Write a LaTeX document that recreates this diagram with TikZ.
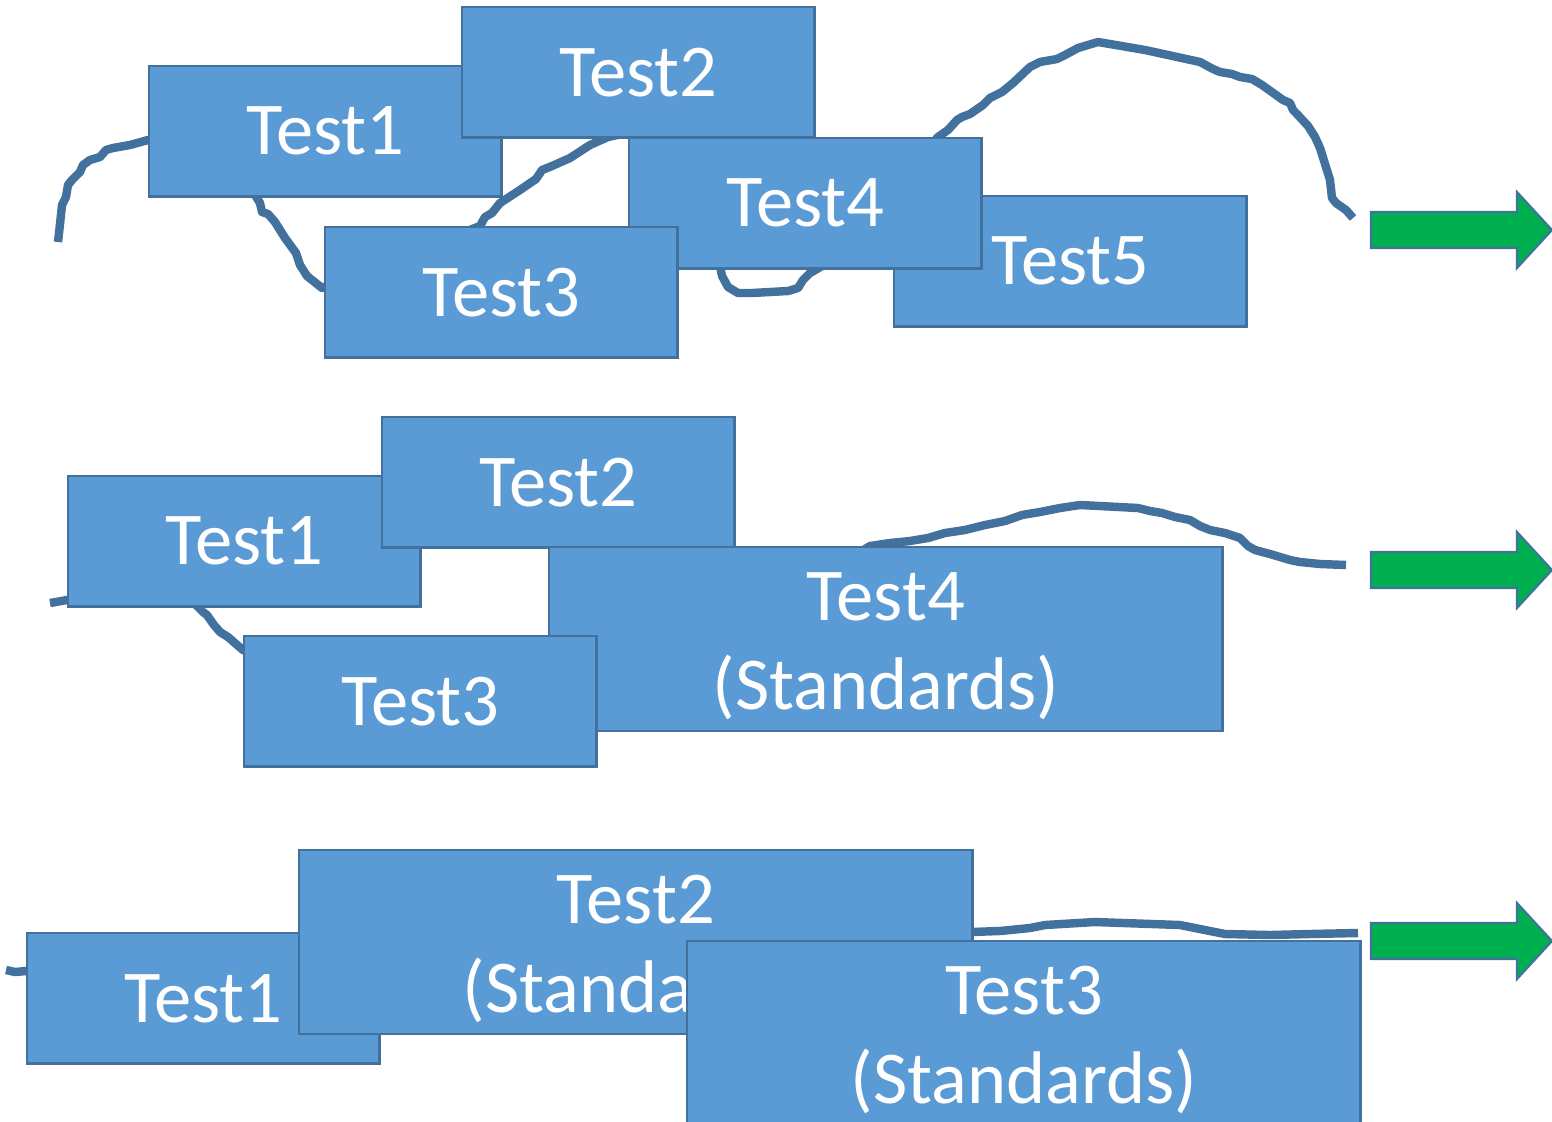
\documentclass[tikz,border=0pt]{standalone}
\usepackage{fontspec}
\setmainfont{Carlito}
\definecolor{boxblue}{HTML}{5B9BD5}
\definecolor{edgeblue}{HTML}{41719C}
\definecolor{gogreen}{HTML}{00B050}
\tikzset{
  box/.style={draw=edgeblue, line width=.7pt, fill=boxblue, text=white,
    anchor=north west, minimum width=3.52cm, minimum height=1.3cm,
    font=\fontsize{21.2}{25.2}\selectfont, align=center},
  widebox/.style={box, minimum width=6.73cm, minimum height=1.82cm, text height=1.5cm},
  scribble/.style={draw=edgeblue, line width=2.4pt, line join=round},
}
\begin{document}
\begin{tikzpicture}[x=0.01cm, y=-0.01cm]
\useasboundingbox (0,0) rectangle (1552,1121);
% first plan: five tests
\draw[scribble] (58,242)--(61,215)--(62,205)--(66,197)--(68,185)--(72,180)--(80,172)--(83,165)--(90,160)--(100,157)--(106,150)--(113,148)--(130,145)--(148,140)
  --(250,180)--(255,195)--(260,203)--(262,212)--(268,214)--(275,222)--(285,238)--(296,253)--(300,265)--(307,276)--(322,288)
  --(480,226)--(485,217)--(492,213)--(500,203)--(520,190)--(536,179)--(542,170)--(552,166)--(570,158)--(590,145)--(608,137)
  --(650,128)--(700,200)--(720,266)--(722,276)--(728,287)--(738,293)--(752,293)--(788,291)--(798,288)--(803,280)--(810,273)--(822,266)
  --(938,137)--(948,130)--(957,120)--(962,117)--(970,114)--(983,105)--(990,98)--(1002,92)--(1013,83)--(1030,67)--(1040,62)--(1057,59)--(1065,55)--(1078,48)--(1098,42)
  --(1145,50)--(1200,62)--(1213,69)--(1220,72)--(1232,74)--(1240,77)--(1252,79)--(1262,85)--(1283,100)--(1290,103)--(1293,110)--(1296,113)--(1308,126)--(1315,137)--(1320,148)--(1330,180)--(1332,198)--(1336,203)--(1346,210)--(1353,218);
\node[box] (a1) at (148,65) {Test1};
\node[box] (a2) at (461,6) {Test2};
\node[box] (a5) at (893,195) {Test5};
\node[box] (a4) at (628,137) {Test4};
\node[box] (a3) at (324,226) {Test3};
% second plan: standards in test 4
\draw[scribble] (50,603)--(67,600)--(130,585)--(190,592)--(196,605)--(203,612)--(207,615)--(214,625)--(220,632)--(228,637)--(236,644)--(243,650)
  --(400,700)--(700,650)--(870,546)--(890,543)--(910,541)--(928,538)--(945,533)--(965,530)--(985,525)--(1005,521)--(1022,515)--(1040,512)--(1060,508)--(1080,505)
  --(1138,508)--(1150,511)--(1162,513)--(1175,517)--(1190,520)--(1200,526)--(1210,530)--(1225,533)--(1240,538)--(1248,546)--(1255,550)--(1270,554)--(1290,560)--(1300,562)--(1320,564)--(1346,565);
\node[box] (b1) at (67,475) {Test1};
\node[box] (b2) at (381,416) {Test2};
\node[widebox] (b4) at (548,546) {Test4\\(Standards)};
\node[box] (b3) at (243,635) {Test3};
% third plan: standards early
\draw[scribble] (6,970)--(15,972)--(26,971)--(971,932)--(1000,931)--(1030,928)--(1045,925)--(1095,922)--(1180,925)--(1215,932)--(1225,934)--(1270,935)--(1310,934)--(1358,933);
\node[box] (c1) at (26,932) {Test1};
\node[widebox] (c2) at (298,849) {Test2\\(Standards)};
\node[widebox] (c3) at (686,940) {Test3\\(Standards)};
% arrows
\foreach \y in {230,570,941}
{
    \draw[draw=edgeblue, fill=gogreen, line width=.6pt]
      (1371,\y-18)--(1517,\y-18)--(1517,\y-38)--(1552,\y)--(1517,\y+38)--(1517,\y+18)--(1371,\y+18)--cycle;
}
\end{tikzpicture}
\end{document}
